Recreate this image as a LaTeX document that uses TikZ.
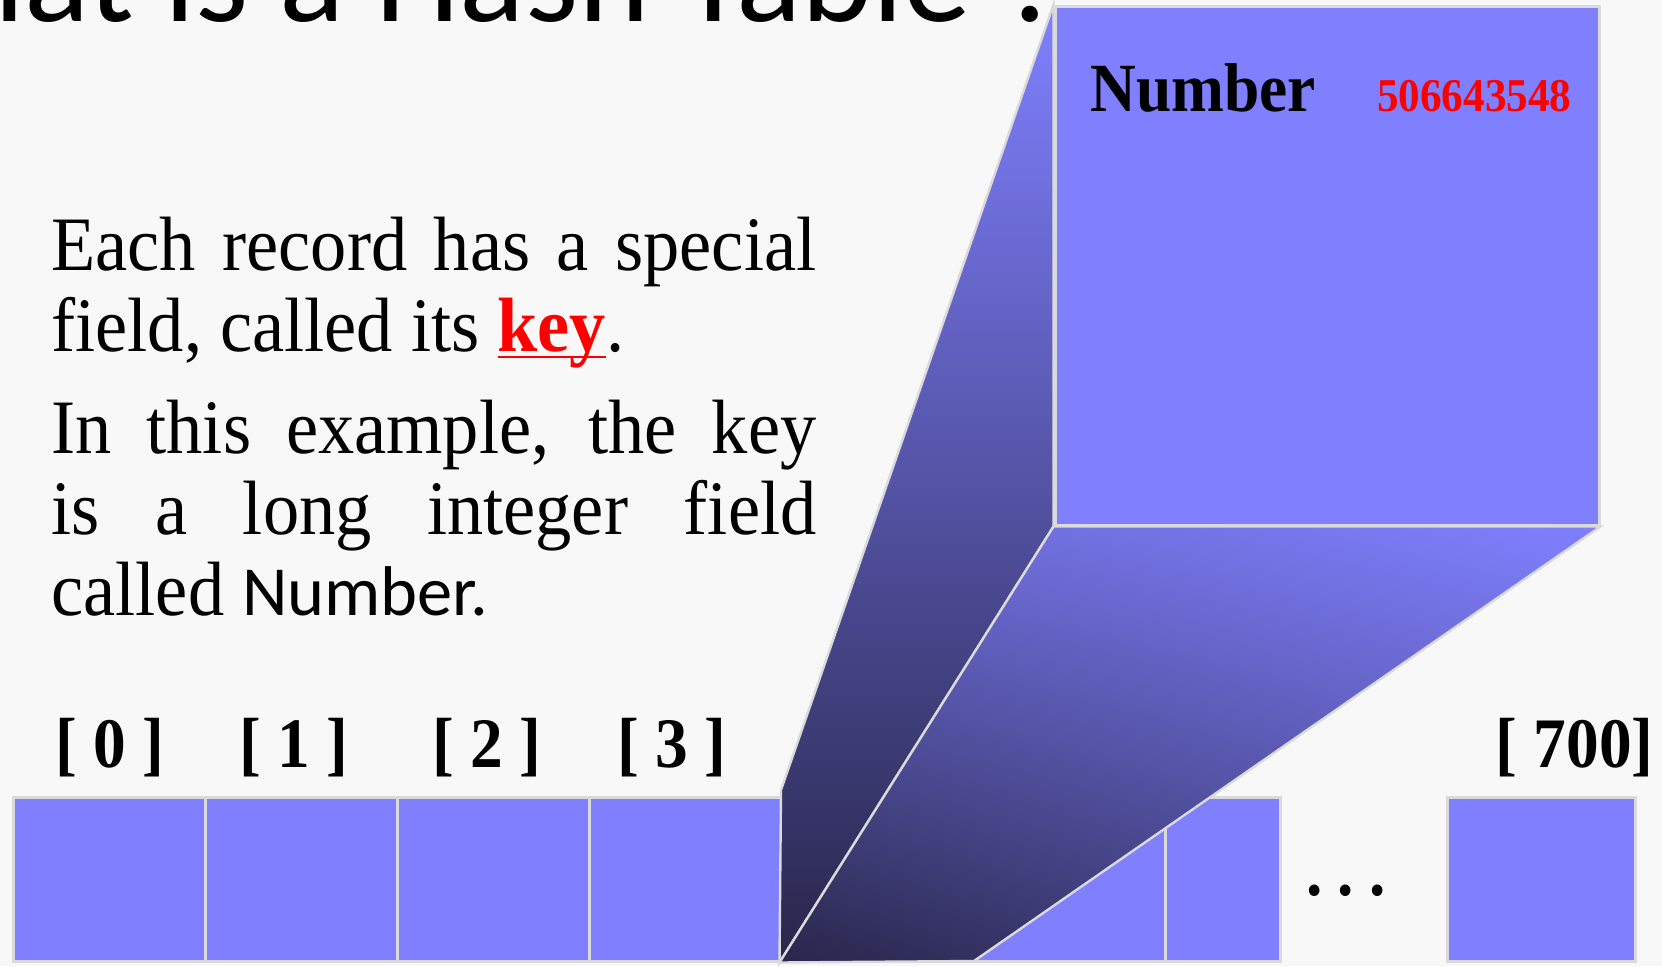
\documentclass[tikz,border=0pt]{standalone}
\usepackage{fontspec}
\setmainfont[FakeStretch=0.92]{Liberation Serif}
\newfontfamily\bodyfont[FakeStretch=0.94]{Liberation Serif}
\newfontfamily\calibri{Carlito}
\usepackage{xcolor}
\usepackage{tikz}
\usetikzlibrary{positioning, shadings}

\definecolor{slot}{HTML}{8080FF}
\definecolor{deep}{HTML}{28264A}
\definecolor{rim}{HTML}{DADADA}
\definecolor{keyred}{HTML}{FF0000}
\definecolor{paper}{HTML}{F8F8F8}

% red, bold and underlined word
\newcommand\keyword[1]{\textcolor{keyred}{\bfseries\setbox0\hbox{#1}\rlap{\rule[-3.6pt]{\wd0}{1.3pt}}\box0}}

\begin{document}
\begin{tikzpicture}[x=0.5pt, y=-0.5pt,
  slotbox/.style={draw=rim, fill=slot, line width=1.5pt, minimum height=82pt, inner sep=0pt},
  idx/.style={font=\bfseries\fontsize{35.5}{40}\selectfont, inner sep=0pt, anchor=base},
  face/.style={draw=rim, line width=1.2pt}]
  % Page
  \useasboundingbox[fill=paper] (0,0) rectangle (1662,966);
  \clip (0,0) rectangle (1662,966);

  % Title, cut off at the top
  \node[font=\calibri\fontsize{68}{76}\selectfont, anchor=base east, inner sep=0pt] (title) at (1066,21) {What is a Hash Table ?};

  % Explanation
  \node[anchor=base west, inner sep=0pt, text width=382.5pt, align=justify,
        font=\bodyfont\fontsize{38.5}{40.5}\selectfont] (expl) at (51,270)
    {Each record has a special\linebreak field, called its \keyword{key}.\par\vspace{10.5pt}
     In this example, the key\linebreak is a long integer field\linebreak
     called {\calibri\fontsize{35.2}{40.5}\selectfont Number.}};

  % Slots of the table
  \foreach \i in {0,...,5}
    \node[slotbox, minimum width=96pt] (c\i) at ({109+192*\i},879) {};
  \node[slotbox, minimum width=57.5pt] (c6) at (1222.5,879) {};
  \node[slotbox, minimum width=94pt] (clast) at (1541,879) {};

  % Indices
  \foreach \i/\x in {0/110, 1/294, 2/487, 3/672}
    \node[idx] (l\i) at (\x,767) {[\ \i\ ]};
  \node[idx, anchor=base east] (llast) at (1654,767) {[ 700]};
  \node[idx] (dots) at (1346,895) {.\hspace{7.7pt}.\hspace{7.7pt}.};

  % Record pulled out of slot 4
  \node[draw=rim, fill=slot, line width=1.5pt, minimum width=272pt, minimum height=259.5pt, inner sep=0pt] (rec) at (1327,265.5) {};
  \coordinate (bend) at (781,790);
  \coordinate (foot) at (c4.south west);
  \coordinate (toe) at (974,961);
  \shade[face, top color=slot, bottom color=deep]
    (rec.north west) -- (bend) -- (foot) -- (rec.south west) -- cycle;
  \shade[face, upper right=slot, upper left=slot!75!deep, lower left=deep, lower right=slot!45!deep]
    (rec.south west) -- (rec.south east) -- (toe) -- (foot) -- cycle;

  % Key field of the record
  \node[font=\bfseries\fontsize{34.5}{40}\selectfont, anchor=base west, inner sep=0pt] (fname) at (1090,111) {Number};
  \node[font=\bfseries\fontsize{23.5}{28}\selectfont, text=keyred, anchor=base east, inner sep=0pt] (fval) at (1572,111) {506643548};
\end{tikzpicture}
\end{document}
